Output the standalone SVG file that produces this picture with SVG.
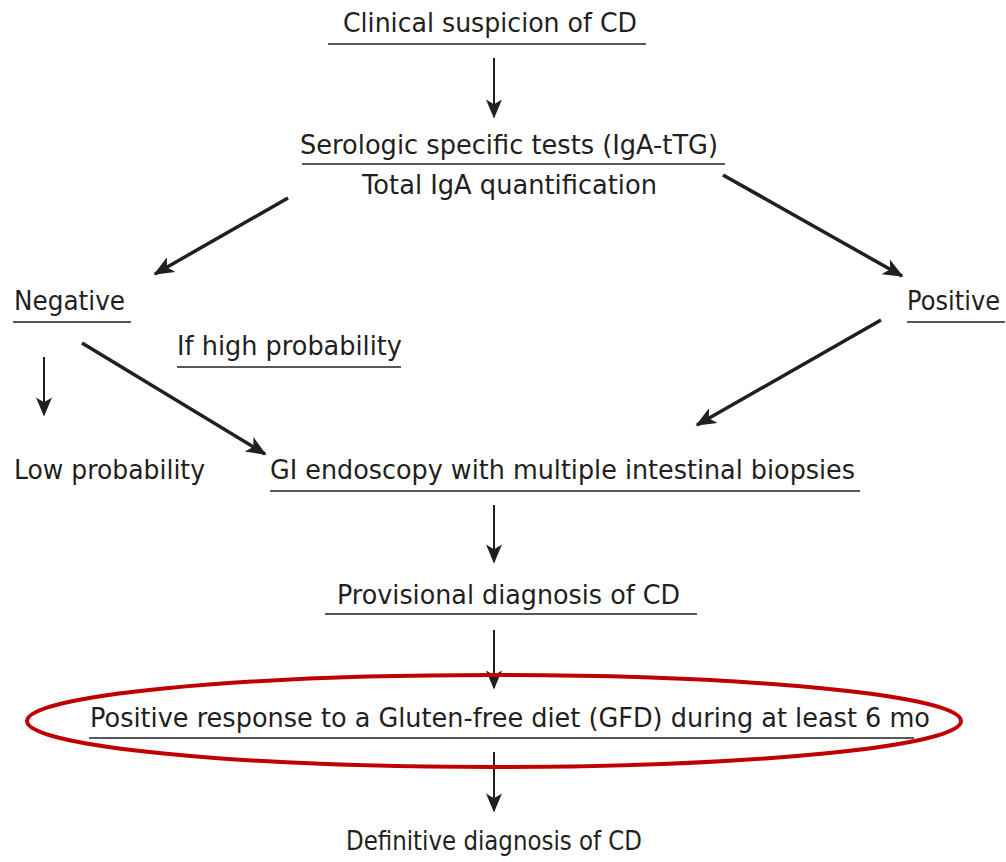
<svg xmlns="http://www.w3.org/2000/svg" width="1006" height="862" viewBox="0 0 1006 862">
<defs>
<marker id="ah" viewBox="0 0 12 10" refX="11" refY="5" markerWidth="24" markerHeight="17" markerUnits="userSpaceOnUse" orient="auto">
<path d="M0,0 L12,5 L0,10 L3,5 Z" fill="#231f20"/>
</marker>
<marker id="ahd" viewBox="0 0 12 10" refX="11" refY="5" markerWidth="20" markerHeight="16" markerUnits="userSpaceOnUse" orient="auto">
<path d="M0,0 L12,5 L0,10 L3,5 Z" fill="#231f20"/>
</marker>
<style>
text{font-family:"DejaVu Sans","Liberation Sans",sans-serif;font-size:26px;fill:#231f20}
.ul{stroke:#231f20;stroke-width:1.5}
.v{stroke:#231f20;stroke-width:2;fill:none;marker-end:url(#ahd)}
.d{stroke:#231f20;stroke-width:3.5;fill:none;marker-end:url(#ah)}
</style>
</defs>
<rect width="1006" height="862" fill="#ffffff"/>
<g id="connectors">
<line class="v" x1="494" y1="58" x2="494" y2="117"/>
<line class="d" x1="288" y1="198" x2="155" y2="274"/>
<line class="d" x1="723" y1="175" x2="902" y2="276"/>
<line class="v" x1="44" y1="357" x2="44" y2="415"/>
<line class="d" x1="82" y1="343" x2="265" y2="454"/>
<line class="d" x1="881" y1="320" x2="697" y2="425"/>
<line class="v" x1="494" y1="505" x2="494" y2="562"/>
<line class="v" x1="494" y1="630" x2="494" y2="688"/>
<line class="v" x1="494" y1="752" x2="494" y2="811"/>
</g>
<g id="n-clinical">
<text x="343" y="32" textLength="294" lengthAdjust="spacingAndGlyphs">Clinical suspicion of CD</text>
<line class="ul" x1="328" y1="44" x2="646" y2="44"/>
</g>
<g id="n-serologic">
<text x="300" y="154" textLength="418" lengthAdjust="spacingAndGlyphs">Serologic specific tests (IgA-tTG)</text>
<line class="ul" x1="302" y1="164" x2="725" y2="164"/>
<text x="362" y="194" textLength="295" lengthAdjust="spacingAndGlyphs">Total IgA quantification</text>
</g>
<g id="n-negative">
<text x="14" y="310" textLength="111" lengthAdjust="spacingAndGlyphs">Negative</text>
<line class="ul" x1="13" y1="322" x2="131" y2="322"/>
</g>
<g id="n-positive">
<text x="907" y="310" textLength="93" lengthAdjust="spacingAndGlyphs">Positive</text>
<line class="ul" x1="907" y1="322" x2="1005" y2="322"/>
</g>
<g id="n-ifhigh">
<text x="177" y="355" textLength="225" lengthAdjust="spacingAndGlyphs">If high probability</text>
<line class="ul" x1="177" y1="367" x2="401" y2="367"/>
</g>
<g id="n-low">
<text x="14" y="479" textLength="191" lengthAdjust="spacingAndGlyphs">Low probability</text>
</g>
<g id="n-gi">
<text x="270" y="479" textLength="585" lengthAdjust="spacingAndGlyphs">GI endoscopy with multiple intestinal biopsies</text>
<line class="ul" x1="270" y1="491" x2="860" y2="491"/>
</g>
<g id="n-provisional">
<text x="337" y="604" textLength="343" lengthAdjust="spacingAndGlyphs">Provisional diagnosis of CD</text>
<line class="ul" x1="325" y1="614" x2="697" y2="614"/>
</g>
<g id="n-gfd">
<ellipse cx="494" cy="721" rx="467" ry="46" fill="none" stroke="#c00000" stroke-width="4"/>
<text x="90" y="727" textLength="840" lengthAdjust="spacingAndGlyphs">Positive response to a Gluten-free diet (GFD) during at least 6 mo</text>
<line class="ul" x1="89" y1="738" x2="914" y2="738"/>
</g>
<g id="n-definitive">
<text x="346" y="850" textLength="296" lengthAdjust="spacingAndGlyphs">Definitive diagnosis of CD</text>
</g>
</svg>
